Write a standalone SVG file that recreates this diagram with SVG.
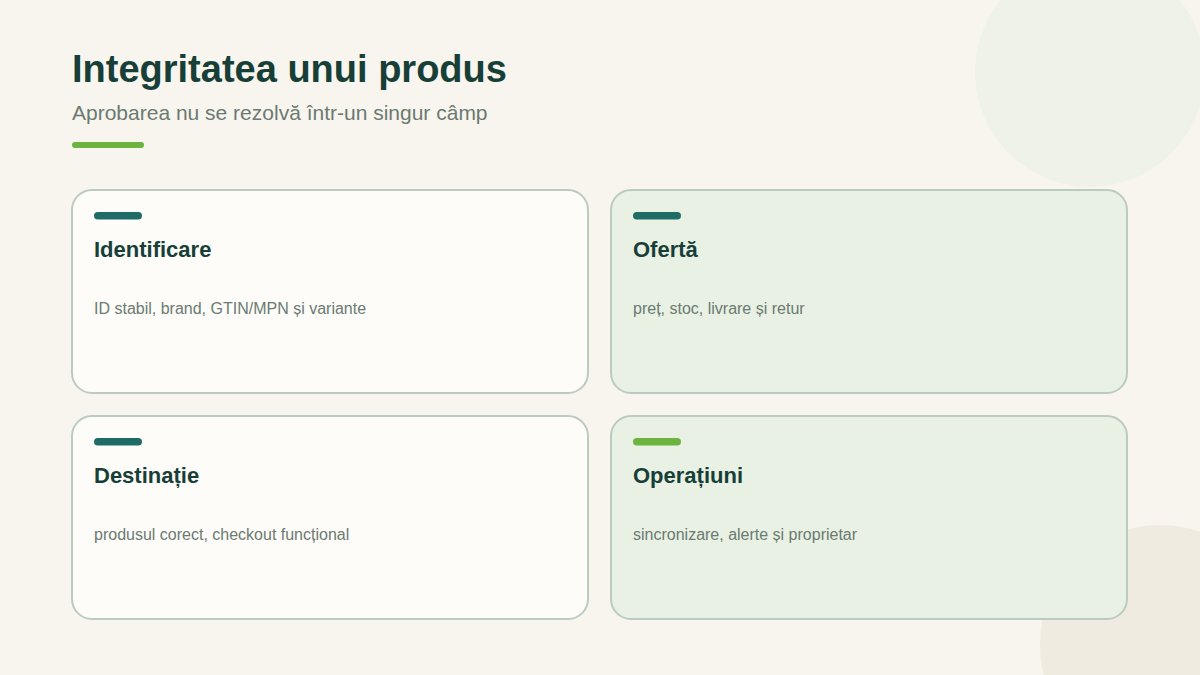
<svg xmlns="http://www.w3.org/2000/svg" width="1200" height="675" viewBox="0 0 1200 675">
<style>
.card-a{fill:#fdfcf8;stroke:#bccbbf;stroke-width:2}
.card-b{fill:#e8f1e3;stroke:#bccbbf;stroke-width:2}
.h{font-family:"Liberation Sans",Arial,sans-serif;font-weight:bold;font-size:22px;fill:#173f38}
.d{font-family:"Liberation Sans",Arial,sans-serif;font-size:16px;fill:#6b7a72}
.bar-t{fill:#1f6b66}
.bar-g{fill:#6db33f}
</style>
<rect width="1200" height="675" fill="#f8f5ee"/>
<circle cx="1090" cy="72" r="115" fill="#eff2e9"/>
<circle cx="1160" cy="645" r="120" fill="#f0ebe0"/>
<text x="72" y="82" font-family="'Liberation Sans',Arial,sans-serif" font-weight="bold" font-size="38" fill="#173f38">Integritatea unui produs</text>
<text x="72" y="120" font-family="'Liberation Sans',Arial,sans-serif" font-size="21" fill="#6b7a72">Aprobarea nu se rezolvă într-un singur câmp</text>
<rect x="72" y="142" width="72" height="6" rx="3" class="bar-g"/>
<g id="connectors"/>
<g id="node-identificare">
<rect x="72" y="190" width="516" height="203" rx="20" class="card-a"/>
<rect x="94" y="212" width="48" height="7.5" rx="3.75" class="bar-t"/>
<text x="94" y="257" class="h">Identificare</text>
<text x="94" y="314" class="d">ID stabil, brand, GTIN/MPN și variante</text>
</g>
<g id="node-oferta">
<rect x="611" y="190" width="516" height="203" rx="20" class="card-b"/>
<rect x="633" y="212" width="48" height="7.5" rx="3.75" class="bar-t"/>
<text x="633" y="257" class="h">Ofertă</text>
<text x="633" y="314" class="d">preț, stoc, livrare și retur</text>
</g>
<g id="node-destinatie">
<rect x="72" y="416" width="516" height="203" rx="20" class="card-a"/>
<rect x="94" y="438" width="48" height="7.5" rx="3.75" class="bar-t"/>
<text x="94" y="483" class="h">Destinație</text>
<text x="94" y="540" class="d">produsul corect, checkout funcțional</text>
</g>
<g id="node-operatiuni">
<rect x="611" y="416" width="516" height="203" rx="20" class="card-b"/>
<rect x="633" y="438" width="48" height="7.5" rx="3.75" class="bar-g"/>
<text x="633" y="483" class="h">Operațiuni</text>
<text x="633" y="540" class="d">sincronizare, alerte și proprietar</text>
</g>
</svg>
